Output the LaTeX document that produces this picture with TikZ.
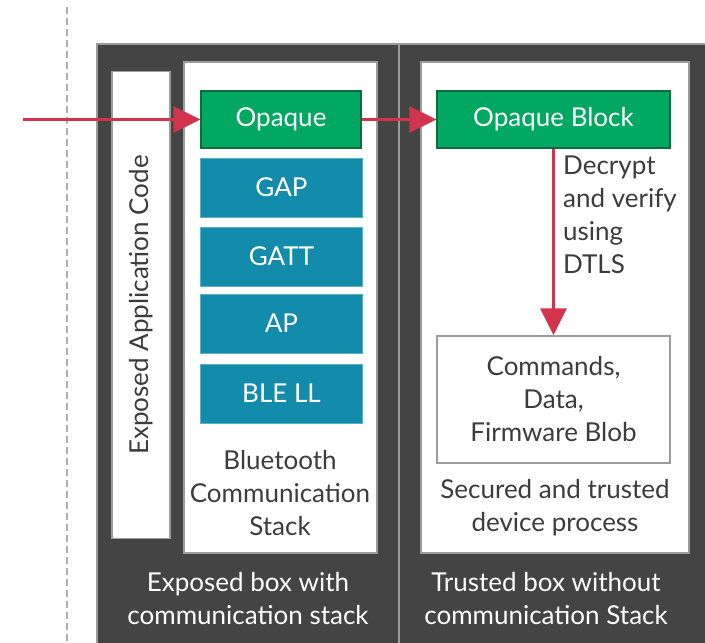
\documentclass[tikz,border=0pt]{standalone}
\usepackage{fontspec}
\setmainfont{Lato}
\usetikzlibrary{arrows.meta}
\definecolor{boxdark}{HTML}{444444}
\definecolor{boxedge}{HTML}{9C9C9C}
\definecolor{txtgray}{HTML}{3C3C3C}
\definecolor{opgreen}{HTML}{00A862}
\definecolor{opedge}{HTML}{0F6B3C}
\definecolor{layerblue}{HTML}{138CAB}
\definecolor{flowred}{HTML}{D1344B}
\tikzset{
  whitebox/.style = {draw = boxedge, fill = white, line width = 1.5pt, inner sep = 0pt},
  opaquebox/.style = {draw = opedge, fill = opgreen, line width = 1.2pt, text = white, minimum height = 57pt},
  layerbox/.style = {draw = layerblue!70!white, fill = layerblue, line width = 0.6pt, text = white, minimum width = 162pt, minimum height = 59pt},
  flow/.style = {draw = flowred, line width = 3pt, -{Triangle[length=27pt, width=26pt]}},
  lbl/.style = {align = center, font = \fontsize{26}{33}\selectfont}
}
\begin{document}
\begin{tikzpicture}[x=1pt, y=-1pt, font=\fontsize{26}{33}\selectfont, text=txtgray]
\useasboundingbox (0,0) rectangle (705,643);
\draw[boxedge!80!white, line width = 1.8pt, dash pattern = on 7pt off 4pt] (67,7) -- (67,643);
% the two outer boxes
\draw [fill = boxdark, draw = boxedge, line width = 1.8pt] (97,44) rectangle (399,660);
\draw [fill = boxdark, draw = boxedge, line width = 1.8pt] (399,44) rectangle (720,660);
% exposed side
\node[whitebox, minimum width = 58pt, minimum height = 467pt] (appcode) at (141,305) {};
\node[rotate = 90] (appcodetxt) at (appcode.center) {Exposed Application Code};
\node[whitebox, minimum width = 193pt, minimum height = 491pt] (btstack) at (280.5,307.5) {};
\node[opaquebox, minimum width = 160pt] (opaque) at (281,119.5) {Opaque};
\foreach \name/\y/\txt in {gap/187.5/GAP, gatt/256.5/GATT, ap/323.5/AP, blell/393.5/BLE LL}
  \node[layerbox] (\name) at (281.5,\y) {\txt};
\node[lbl] (bttxt) at (280,493) {Bluetooth\\Communication\\Stack};
\node[lbl, text = white] (exposedtxt) at (248,599) {Exposed box with\\communication stack};
% trusted side
\node[whitebox, minimum width = 268pt, minimum height = 491pt] (trusted) at (555,307.5) {};
\node[opaquebox, minimum width = 233pt] (opblock) at (553.5,119.5) {Opaque Block};
\node[whitebox, lbl, minimum width = 233pt, minimum height = 127pt] (cmds) at (553.5,399.5) {Commands,\\Data,\\Firmware Blob};
\node[lbl, align = left, anchor = north west, inner sep = 0pt] (dtlstxt) at (563,156) {Decrypt\\and verify\\using\\DTLS};
\node[lbl] (securedtxt) at (555,508) {Secured and trusted\\device process};
\node[lbl, text = white] (trustedtxt) at (546,599) {Trusted box without\\communication Stack};
% flow
\coordinate (src) at (23,119.5);
\draw[flow] (src) -- (opaque.west);
\draw[flow] (opaque.east) -- (opblock.west);
\draw[flow] (opblock.south) -- (cmds.north);
\end{tikzpicture}
\end{document}
